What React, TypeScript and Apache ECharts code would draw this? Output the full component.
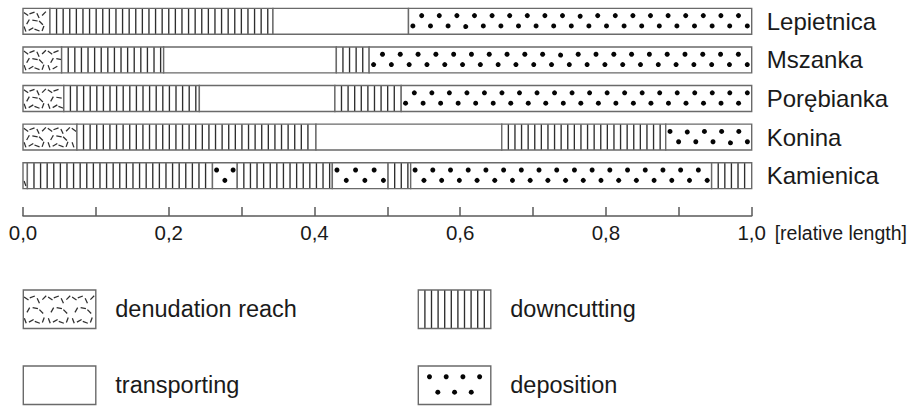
import React, { useEffect, useRef } from "react";
import * as echarts from "echarts";

// ---------- data ----------
const rivers = ["Lepietnica", "Mszanka", "Porębianka", "Konina", "Kamienica"];
const kindNames = ["denudation reach", "downcutting", "transporting", "deposition"];
// kind codes: 0 denudation reach, 1 downcutting, 2 transporting, 3 deposition
const lepietnicaEnds = [0.037, 0.343, 0.529, 1.0];
const lepietnicaKinds = [0, 1, 2, 3];
const mszankaEnds = [0.053, 0.193, 0.43, 0.475, 1.0];
const mszankaKinds = [0, 1, 2, 1, 3];
const porebiankaEnds = [0.056, 0.242, 0.428, 0.519, 1.0];
const porebiankaKinds = [0, 1, 2, 1, 3];
const koninaEnds = [0.074, 0.402, 0.657, 0.882, 1.0];
const koninaKinds = [0, 1, 2, 1, 3];
const kamienicaEnds = [0.006, 0.26, 0.294, 0.4245, 0.501, 0.532, 0.945, 1.0];
const kamienicaKinds = [0, 1, 3, 1, 3, 1, 3, 1];
const tickLabels = ["0,0", "0,2", "0,4", "0,6", "0,8", "1,0"];
const axisName = "[relative length]";

const riverEnds = [lepietnicaEnds, mszankaEnds, porebiankaEnds, koninaEnds, kamienicaEnds];
const riverKinds = [lepietnicaKinds, mszankaKinds, porebiankaKinds, koninaKinds, kamienicaKinds];

// ---------- style ----------
const FONT = "'Liberation Sans', Arial, sans-serif";
const TEXT = "#1a1a1a";
const BORDER = "#6a6a6a";
const LINE = "#2e2e2e";
const LINE_SP = 6.6;
const DOT_SP = 8.8;
// denudation dash tile: [dx, fractionY, angleDeg]
const DENUD_TILE: number[][] = [
  [3, 0.22, 35], [9, 0.18, -20], [15, 0.28, 65], [21, 0.2, -45],
  [5, 0.52, -60], [12, 0.47, 10], [18, 0.56, 45],
  [2, 0.8, 70], [8, 0.8, -30], [14, 0.84, 20], [20, 0.78, -70],
];
const TILE_W = 24;

function patternElems(kind: number, x: number, y: number, w: number, h: number, upperFirst: boolean, inset = 0): any[] {
  const out: any[] = [];
  if (kind === 1) {
    for (let px = x + LINE_SP; px < x + w - 1.5; px += LINE_SP) {
      out.push({
        type: "line",
        shape: { x1: px, y1: y, x2: px, y2: y + h },
        style: { stroke: LINE, lineWidth: 1.35 },
        silent: true,
      });
    }
  } else if (kind === 3) {
    const iw = w - 2 * inset;
    const n = Math.max(1, Math.round(iw / DOT_SP));
    const s = iw / n;
    for (let j = 0; j < n; j++) {
      const up = upperFirst ? j % 2 === 0 : j % 2 === 1;
      out.push({
        type: "circle",
        shape: { cx: x + inset + s * (j + 0.5), cy: y + h * (up ? 0.28 : 0.68), r: 2.5 },
        style: { fill: "#050505" },
        silent: true,
      });
    }
  } else if (kind === 0) {
    for (let t = 0; t < w; t += TILE_W) {
      for (const d of DENUD_TILE) {
        const cx = x + t + d[0];
        if (cx < x + 2 || cx > x + w - 2) continue;
        const cy = y + h * d[1];
        const a = (d[2] * Math.PI) / 180;
        const dx = 2.7 * Math.cos(a);
        const dy = 2.7 * Math.sin(a);
        out.push({
          type: "line",
          shape: { x1: cx - dx, y1: cy - dy, x2: cx + dx, y2: cy + dy },
          style: { stroke: "#2e2e2e", lineWidth: 1.25 },
          silent: true,
        });
      }
    }
  }
  return out;
}

function buildData() {
  const data: any[] = [];
  riverEnds.forEach((ends, r) => {
    let prev = 0;
    ends.forEach((e, i) => {
      data.push({ name: rivers[r], value: [r, prev, e, riverKinds[r][i]] });
      prev = e;
    });
  });
  return data;
}

function buildLegend(): any[] {
  const els: any[] = [];
  kindNames.forEach((name, i) => {
    const col = i % 2;
    const row = Math.floor(i / 2);
    const bx = col === 0 ? 23.3 : 418.3;
    const by = row === 0 ? 290 : 366;
    const bw = 72.5;
    const bh = 38.5;
    els.push({ type: "rect", shape: { x: bx, y: by, width: bw, height: bh }, style: { fill: "#fff" }, silent: true });
    patternElems(i, bx, by, bw, bh, true, 7).forEach((e) => els.push(e));
    els.push({
      type: "rect",
      shape: { x: bx, y: by, width: bw, height: bh },
      style: { fill: "none", stroke: BORDER, lineWidth: 1.4 },
      silent: true,
    });
    els.push({
      type: "text",
      x: bx + 92,
      y: by + 19,
      style: { text: name, fontSize: 23.5, fontFamily: FONT, fill: TEXT, verticalAlign: "middle", align: "left" },
      silent: true,
    });
  });
  return els;
}

export default function App() {
  const ref = useRef<HTMLDivElement>(null);
  useEffect(() => {
    if (!ref.current) return;
    const chart = echarts.init(ref.current, undefined, { renderer: "svg" });
    chart.setOption({
      animation: false,
      backgroundColor: "#ffffff",
      grid: { left: 23, right: 160.3, top: 2, height: 193, containLabel: false, outerBoundsMode: "none" },
      xAxis: {
        type: "value",
        min: 0,
        max: 1,
        interval: 0.1,
        offset: 21,
        name: axisName,
        nameLocation: "end",
        nameGap: 23,
        nameTextStyle: { fontSize: 19.5, fontFamily: FONT, color: TEXT, verticalAlign: "top", align: "left", lineHeight: 34 },
        axisLine: { show: true, lineStyle: { color: "#5a5a5a", width: 1.5 } },
        axisTick: { show: true, inside: true, length: 9, lineStyle: { color: "#5a5a5a", width: 1.5 } },
        splitLine: { show: false },
        axisLabel: {
          margin: 6,
          fontSize: 20.5,
          fontFamily: FONT,
          color: TEXT,
          formatter: (v: number) => {
            const k = Math.round(v * 10);
            return k % 2 === 0 ? tickLabels[k / 2] : "";
          },
        },
      },
      yAxis: {
        type: "category",
        data: rivers,
        inverse: true,
        position: "right",
        axisLine: { show: false },
        axisTick: { show: false },
        splitLine: { show: false },
        axisLabel: { margin: 15, fontSize: 24, fontFamily: FONT, color: TEXT },
      },
      series: [
        {
          type: "custom",
          encode: { x: [1, 2], y: 0 },
          data: buildData(),
          renderItem: (params: any, api: any) => {
            const row = api.value(0);
            const s = api.value(1);
            const e = api.value(2);
            const kind = api.value(3);
            const a = api.coord([s, row]);
            const b = api.coord([e, row]);
            const h = api.size([0, 1])[1] * 0.67;
            const x = a[0];
            const y = a[1] - h / 2;
            const w = b[0] - a[0];
            return {
              type: "group",
              children: [
                { type: "rect", shape: { x, y, width: w, height: h }, style: { fill: "#fff" } },
                ...patternElems(kind, x, y, w, h, row >= 3),
                { type: "rect", shape: { x, y, width: w, height: h }, style: { fill: "none", stroke: BORDER, lineWidth: 1.4 } },
              ],
            };
          },
        },
      ],
      graphic: { elements: buildLegend() },
    });
    return () => chart.dispose();
  }, []);
  return (
    <div
      ref={ref}
      style={{ position: "fixed", left: 0, top: 0, width: 912, height: 406, background: "#fff" }}
    />
  );
}
